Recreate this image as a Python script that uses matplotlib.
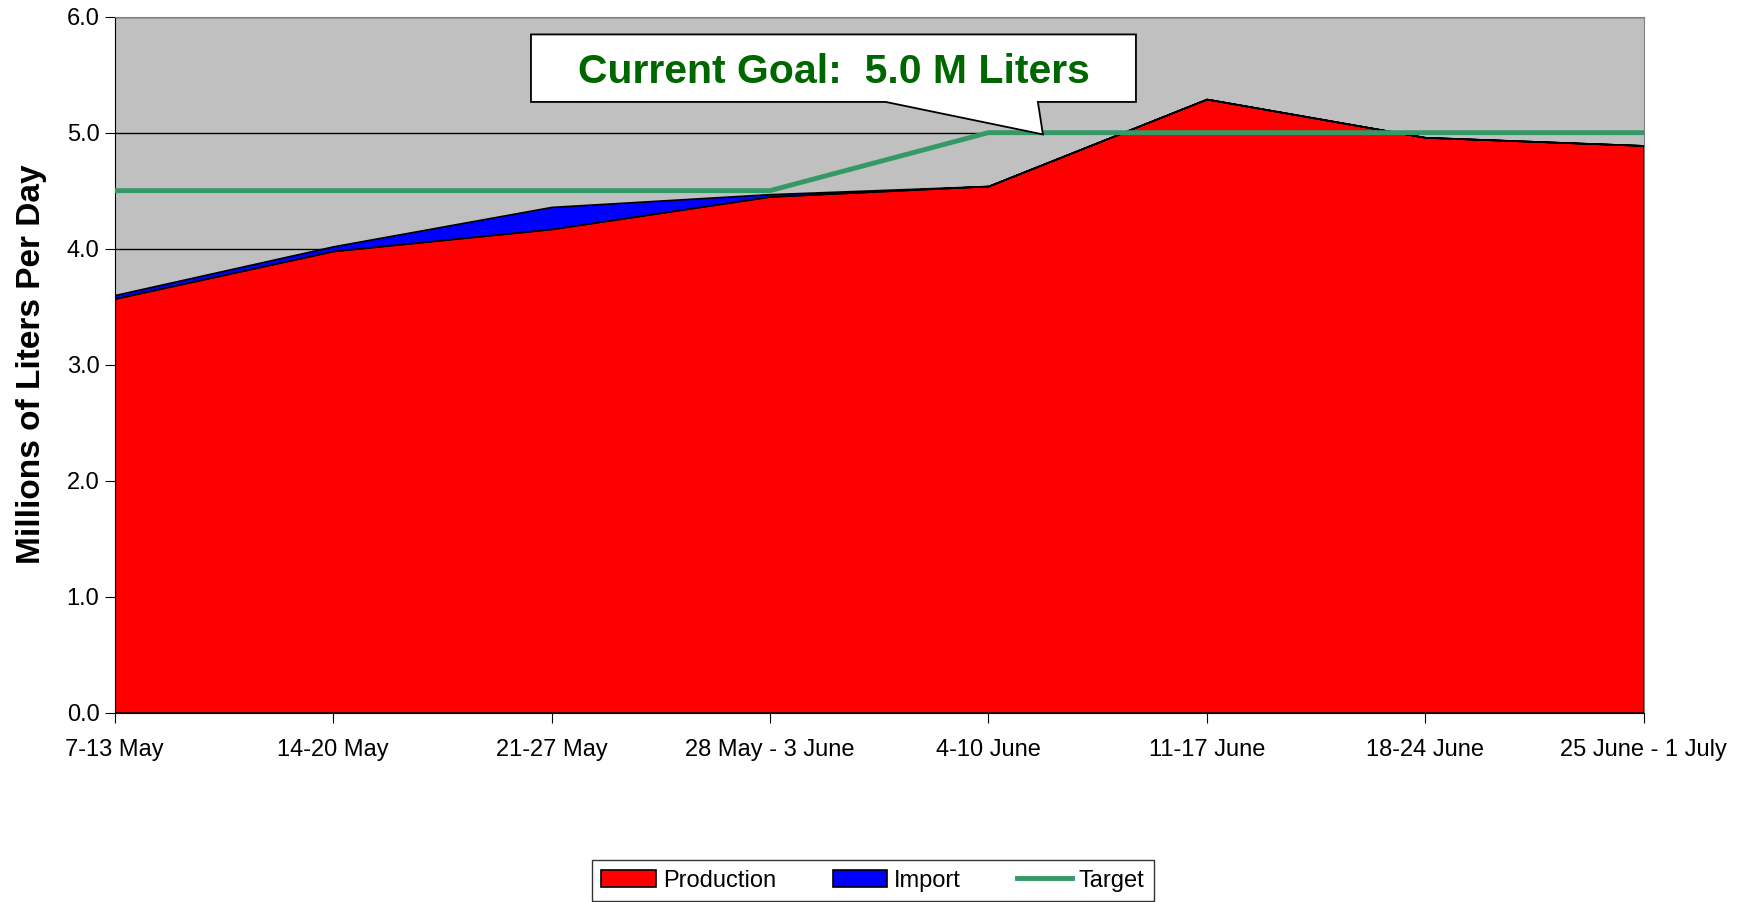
import matplotlib.pyplot as plt
from matplotlib.patches import Polygon

# weekly values, millions of liters per day
weeks = ["7-13 May", "14-20 May", "21-27 May", "28 May - 3 June",
         "4-10 June", "11-17 June", "18-24 June", "25 June - 1 July"]
production = [3.57, 3.98, 4.17, 4.45, 4.54, 5.29, 4.96, 4.89]
imports = [0.03, 0.04, 0.19, 0.02, 0.0, 0.0, 0.0, 0.0]
target = [4.5, 4.5, 4.5, 4.5, 5.0, 5.0, 5.0, 5.0]
goal_text = "Current Goal:  5.0 M Liters"

plt.rcParams['font.family'] = ['Liberation Sans', 'DejaVu Sans']

fig = plt.figure(figsize=(17.46, 9.02), dpi=100)
ax = fig.add_axes([0.0657, 0.21, 0.8756, 0.7715])
ax.set_facecolor('#C0C0C0')

x = list(range(len(weeks)))
ax.stackplot(x, production, imports, colors=['#FF0000', '#0000FF'],
             edgecolor='black', linewidth=1.2, labels=['Production', 'Import'], zorder=2)
ax.plot(x, target, color='#339966', linewidth=3.5, label='Target', zorder=4)

ax.set_xlim(0, len(weeks) - 1)
ax.set_ylim(0, 6)
ax.set_yticks([0, 1, 2, 3, 4, 5, 6])
ax.set_yticklabels([f"{v:.1f}" for v in range(7)], fontsize=17)
ax.set_xticks(x)
ax.set_xticklabels(weeks, fontsize=17)
ax.tick_params(axis='x', direction='out', length=7, pad=12, color='black')
ax.tick_params(axis='y', direction='out', length=7, pad=4, color='black')
ax.yaxis.grid(True, color='black', linewidth=1)
ax.set_axisbelow(True)
for s in ['top', 'right']:
    ax.spines[s].set_color('#808080')
ax.spines['left'].set_color('black')
ax.spines['bottom'].set_color('black')

ax.set_ylabel("Millions of Liters Per Day", fontsize=24, fontweight='bold', labelpad=14)

# callout box with pointer
bx0, bx1, by0, by1 = 1.906, 4.676, 5.265, 5.847
callout = Polygon([(bx0, by0), (bx0, by1), (bx1, by1), (bx1, by0),
                   (4.227, by0), (4.25, 4.985), (3.53, by0)],
                  closed=True, facecolor='white', edgecolor='black', linewidth=1.3, zorder=5)
ax.add_patch(callout)
ax.text((bx0 + bx1) / 2, (by0 + by1) / 2 - 0.035, goal_text, ha='center', va='center',
        fontsize=29.5, fontweight='bold', color='#006600', zorder=6)

leg = fig.legend(loc='lower center', bbox_to_anchor=(0.5, -0.012), ncol=3, fontsize=17,
                 frameon=True, fancybox=False, edgecolor='black', columnspacing=2.4,
                 handlelength=2.3, handleheight=0.7, handletextpad=0.3, borderpad=0.4)
leg.get_frame().set_linewidth(1)

fig.savefig("out.png", dpi=100)
